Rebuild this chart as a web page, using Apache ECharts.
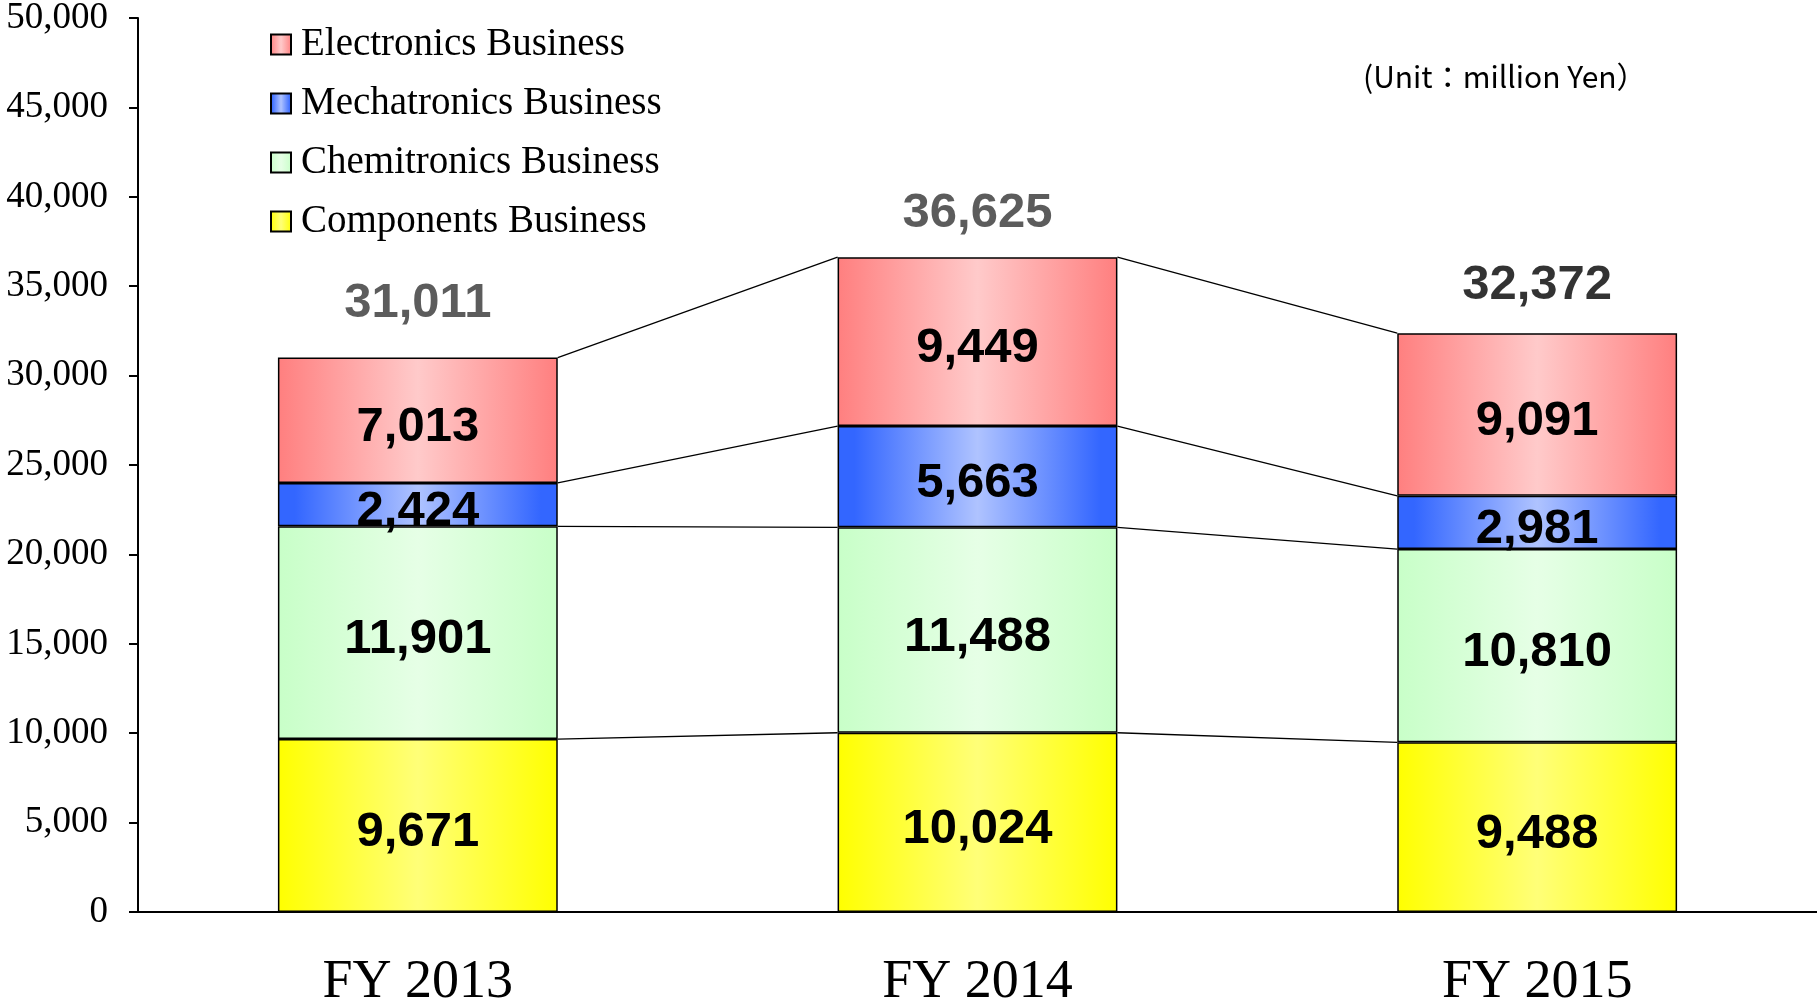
<!DOCTYPE html>
<html>
<head>
<meta charset="utf-8">
<title>Sales by business segment</title>
<script src="https://cdn.jsdelivr.net/npm/echarts@6/dist/echarts.min.js"></script>
<style>
  html, body { margin: 0; padding: 0; background: #fff; }
  #chart { width: 1817px; height: 1002px; }
</style>
</head>
<body>
<div id="chart"></div>
<script>
// data (million Yen)
const categories = ['FY 2013', 'FY 2014', 'FY 2015'];
const components = [9671, 10024, 9488];
const chemitronics = [11901, 11488, 10810];
const mechatronics = [2424, 5663, 2981];
const electronics = [7013, 9449, 9091];
const totals = [31011, 36625, 32372];
const yMin = 0;
const yMax = 50000;
const yStep = 5000;

// cumulative tops of each stacked layer, used for connector lines and totals
const layers = [components, chemitronics, mechatronics, electronics];
const levels = [];
let running = [0, 0, 0];
layers.forEach(function (arr) {
  running = running.map(function (v, i) { return v + arr[i]; });
  levels.push(running.slice());
});

const fmt = function (v) { return Number(v).toLocaleString('en-US'); };

function grad(edge, mid, hold) {
  const h = hold || 0;
  return new echarts.graphic.LinearGradient(0, 0, 1, 0, [
    { offset: 0, color: edge },
    { offset: h, color: edge },
    { offset: 0.5, color: mid },
    { offset: 1 - h, color: edge },
    { offset: 1, color: edge }
  ]);
}

const numFont = { fontFamily: 'Liberation Sans', fontWeight: 'bold', fontSize: 49, color: '#000' };

function barSeries(name, data, color) {
  return {
    name: name,
    type: 'bar',
    stack: 'total',
    barWidth: '50%',
    data: data,
    itemStyle: { color: color, borderColor: '#000', borderWidth: 1.5 },
    label: Object.assign({
      show: true,
      position: 'inside',
      offset: [0, 7],
      formatter: function (p) { return fmt(p.value); }
    }, numFont),
    z: 3
  };
}

// gaps between bar top and total label (px), and their colours
const totalGap = [29, 19, 23];
const totalColor = ['#333', '#333', '#000'];

const chart = echarts.init(document.getElementById('chart'));
chart.setOption({
  animation: false,
  backgroundColor: '#fff',
  title: {
    text: '(Unit：million Yen）',
    left: 1358,
    top: 57,
    textStyle: { fontFamily: 'Noto Sans CJK JP', fontWeight: 'normal', fontSize: 30, color: '#000' }
  },
  legend: {
    orient: 'vertical',
    left: 265,
    top: 20,
    icon: 'rect',
    itemWidth: 20,
    itemHeight: 20,
    itemGap: 20,
    data: ['Electronics Business', 'Mechatronics Business', 'Chemitronics Business', 'Components Business'],
    textStyle: { fontFamily: 'Liberation Serif', fontSize: 39, color: '#000', padding: [0, 0, 0, 5] }
  },
  grid: { left: 138, right: 0, top: 18, bottom: 90, containLabel: false, outerBoundsMode: 'none' },
  xAxis: {
    type: 'category',
    data: categories,
    axisLine: { lineStyle: { color: '#000', width: 2 } },
    axisTick: { show: false },
    axisLabel: { fontFamily: 'Liberation Serif', fontSize: 54, color: '#000', margin: 44 }
  },
  yAxis: {
    type: 'value',
    min: yMin,
    max: yMax,
    interval: yStep,
    axisLine: { show: true, lineStyle: { color: '#000', width: 2 } },
    axisTick: { show: true, length: 9, lineStyle: { color: '#000', width: 2 } },
    splitLine: { show: false },
    axisLabel: { fontFamily: 'Liberation Serif', fontSize: 37, color: '#000', margin: 30, formatter: fmt }
  },
  series: [
    barSeries('Components Business', components, grad('#FFFF00', '#FFFF78')),
    barSeries('Chemitronics Business', chemitronics, grad('#C8FFC8', '#E6FFE6')),
    barSeries('Mechatronics Business', mechatronics, grad('#3366FF', '#AFC3FF', 0.06)),
    barSeries('Electronics Business', electronics, grad('#FF7F7F', '#FFCACA')),
    {
      // connector lines between neighbouring bars
      type: 'custom',
      silent: true,
      z: 2,
      encode: { x: 0, y: 1 },
      data: [[0, levels[3][0]], [1, levels[3][1]]],
      renderItem: function (params, api) {
        const i = api.value(0);
        const half = api.size([1, 0])[0] * 0.25;
        const children = levels.map(function (lv) {
          const a = api.coord([i, lv[i]]);
          const b = api.coord([i + 1, lv[i + 1]]);
          return {
            type: 'line',
            shape: { x1: a[0] + half, y1: a[1], x2: b[0] - half, y2: b[1] },
            style: { stroke: '#000', lineWidth: 1.3 }
          };
        });
        return { type: 'group', children: children };
      }
    },
    {
      // total labels above each bar
      type: 'scatter',
      silent: true,
      symbolSize: 1,
      itemStyle: { color: 'rgba(0,0,0,0)' },
      data: levels[3].map(function (v, i) {
        return {
          value: v,
          label: { distance: totalGap[i], color: totalColor[i] }
        };
      }),
      label: Object.assign({}, numFont, {
        show: true,
        position: 'top',
        formatter: function (p) { return fmt(totals[p.dataIndex]); }
      }),
      z: 4
    }
  ]
});
</script>
</body>
</html>
